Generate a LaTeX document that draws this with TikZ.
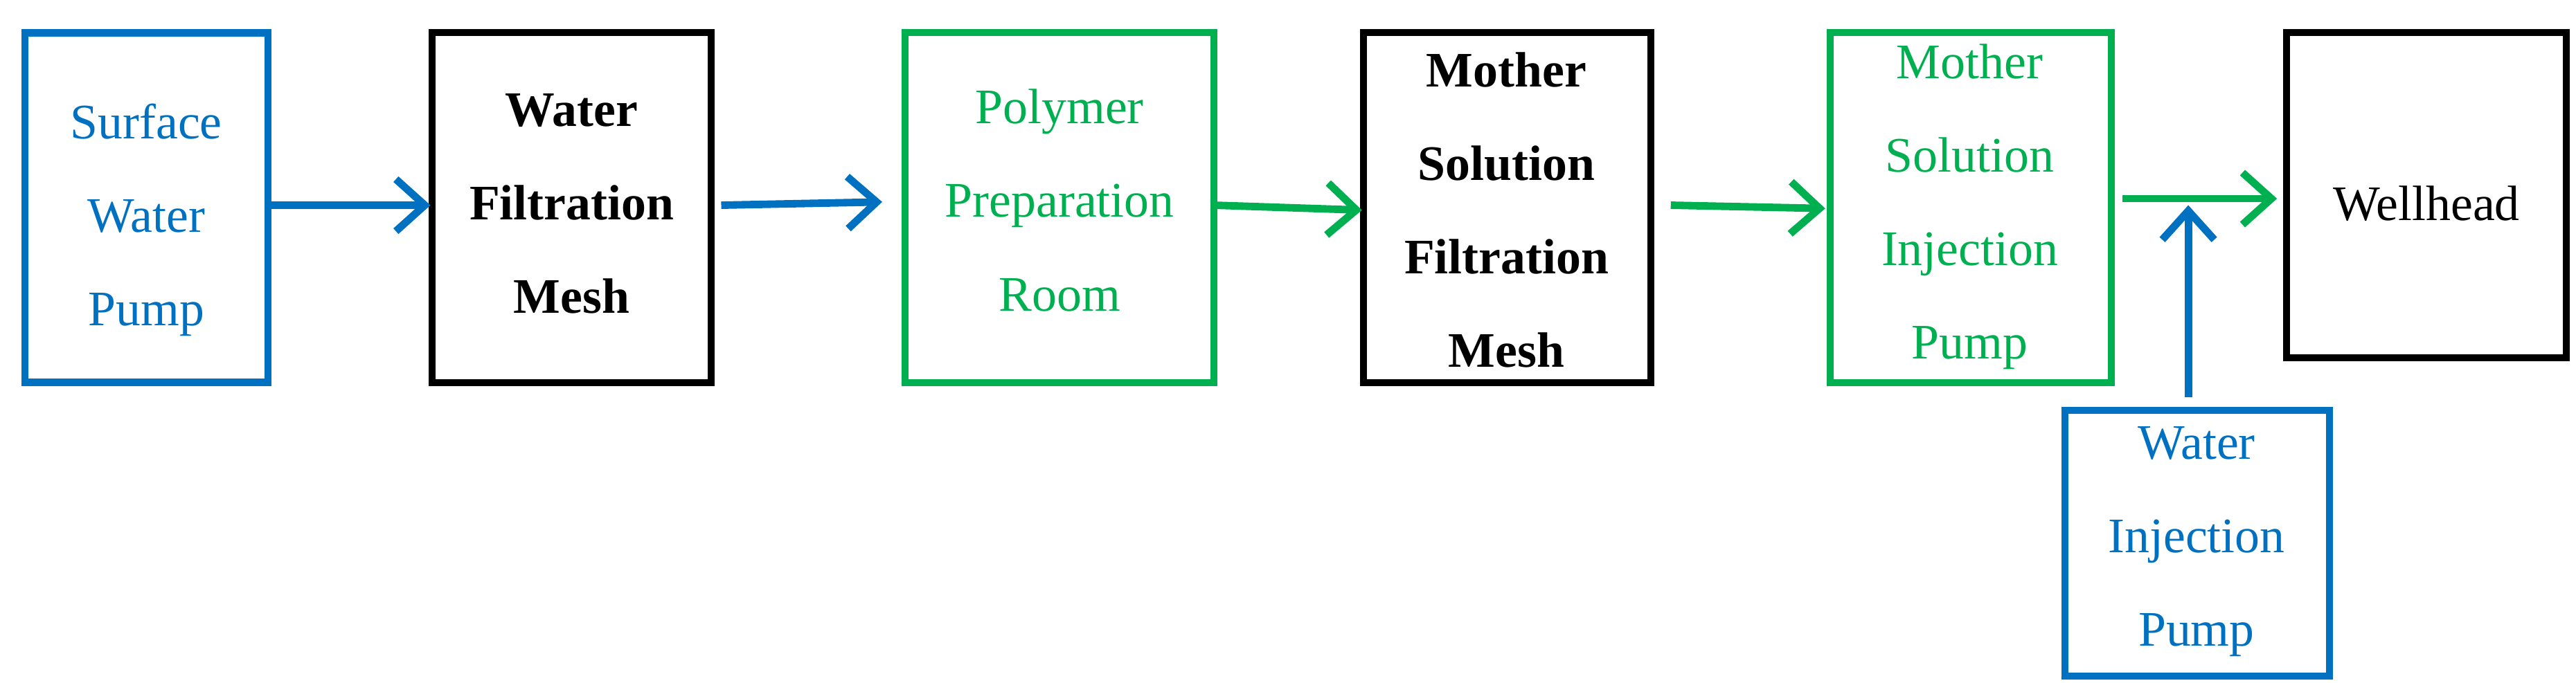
\documentclass[tikz,border=0pt]{standalone}
\usepackage{fontspec}
\setmainfont{Liberation Serif}
\usetikzlibrary{arrows.meta}
\definecolor{bl}{RGB}{0,112,192}
\definecolor{gr}{RGB}{0,176,80}
\begin{document}
\begin{tikzpicture}[x=0.01cm,y=-0.01cm,
 box/.style={draw,line width=1.2pt,inner sep=0pt,align=center,font=\fontsize{8.6}{16.2}\selectfont},
 ar/.style={line width=1.3pt,-{Straight Barb[length=5pt,width=9pt,line width=1.3pt]}}]
\useasboundingbox (0,0) rectangle (1568,416);
\node[box,bl,text=bl,minimum width=148\pgflinewidth] (a) at (89,126.5) [minimum width=4.2cm*0.352,minimum height=6.04cm*0.352] {};
\draw[bl,line width=1.2pt] (15,20) rectangle (163,233);
\node[text=bl,align=center,font=\fontsize{8.6}{16.2}\selectfont] (a) at (89,134) {Surface\\Water\\Pump};
\draw[line width=1.2pt] (263,20) rectangle (433,233);
\node[align=center,font=\bfseries\fontsize{8.6}{16.2}\selectfont] (b) at (348,124) {Water\\Filtration\\Mesh};
\draw[gr,line width=1.2pt] (551,20) rectangle (739,233);
\node[text=gr,align=center,font=\fontsize{8.6}{16.2}\selectfont] (c) at (645,122) {Polymer\\Preparation\\Room};
\draw[line width=1.2pt] (830,20) rectangle (1005,233);
\node[align=center,font=\bfseries\fontsize{8.6}{16.2}\selectfont] (d) at (917,128) {Mother\\Solution\\Filtration\\Mesh};
\draw[gr,line width=1.2pt] (1114,20) rectangle (1285,233);
\node[text=gr,align=center,font=\fontsize{8.6}{16.2}\selectfont] (e) at (1199,126) {Mother\\Solution\\Injection\\Pump};
\draw[line width=1.2pt] (1392,20) rectangle (1562,218);
\node[font=\fontsize{8.6}{16.2}\selectfont] (f) at (1477,124) {Wellhead};
\draw[bl,line width=1.2pt] (1257,250) rectangle (1418,412);
\node[text=bl,align=center,font=\fontsize{8.6}{16.2}\selectfont] (g) at (1337,330) {Water\\Injection\\Pump};
\coordinate (a1) at (163,125); \coordinate (b0) at (262,125);
\coordinate (b1) at (439,125); \coordinate (c0) at (537,123);
\coordinate (c1) at (739,125); \coordinate (d0) at (829,128);
\coordinate (d1) at (1017,125); \coordinate (e0) at (1111,127);
\coordinate (e1) at (1292,121); \coordinate (f0) at (1386,121);
\coordinate (g1) at (1332,242); \coordinate (g0) at (1332,125);
\draw[ar,bl] (a1)--(b0);
\draw[ar,bl] (b1)--(c0);
\draw[ar,gr] (c1)--(d0);
\draw[ar,gr] (d1)--(e0);
\draw[ar,gr] (e1)--(f0);
\draw[ar,bl] (g1)--(g0);
\end{tikzpicture}
\end{document}
